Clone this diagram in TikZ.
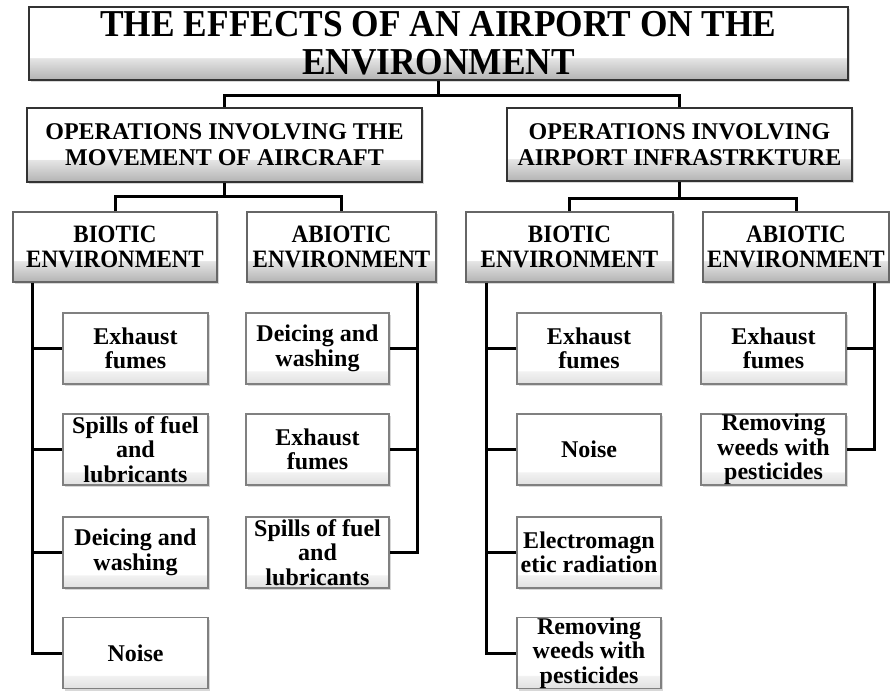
\documentclass[tikz,border=0pt]{standalone}
\usepackage{fontspec}
\setmainfont{Liberation Serif}
\newfontfamily\titlefont{Liberation Serif}[FakeStretch=0.93]
\newfontfamily\envfont{Liberation Serif}[FakeStretch=0.92]
\usetikzlibrary{shadows,calc}
\pgfdeclareverticalshading{shadeA}{100bp}{color(0bp)=(black!30); color(25bp)=(black!30); color(40bp)=(black!10); color(40.5bp)=(white); color(100bp)=(white)}
\pgfdeclareverticalshading{shadeB}{100bp}{color(0bp)=(black!12); color(25bp)=(black!12); color(34bp)=(black!5); color(34.5bp)=(white); color(100bp)=(white)}
\tikzset{
  basebox/.style={shade, shading=shadeA, inner sep=0pt, align=center,
    drop shadow={shadow xshift=2pt, shadow yshift=-2pt, opacity=0.25, fill=black!60}},
  titlebox/.style={basebox, draw=black!80, line width=2.2pt,
    font=\titlefont\bfseries\fontsize{38}{38}\selectfont},
  opbox/.style={basebox, draw=black!80, line width=2.2pt,
    font=\bfseries\fontsize{24}{26}\selectfont},
  envbox/.style={basebox, draw=black!60, line width=1.3pt,
    font=\envfont\bfseries\fontsize{25}{24.3}\selectfont},
  leafbox/.style={basebox, shading=shadeB, draw=black!50, line width=1.1pt,
    minimum width=145pt, minimum height=71pt,
    font=\bfseries\fontsize{24}{24.5}\selectfont},
  conn/.style={line width=3pt, draw=black, line join=miter}
}
\begin{document}
\begin{tikzpicture}[x=1pt,y=-1pt]
\fill[white] (0,0) rectangle (890,691);
\useasboundingbox (0,0) rectangle (890,691);

% level 0 and 1
\node[titlebox, minimum width=819pt, minimum height=73pt] (top) at (438.5,43.5)
  {THE EFFECTS OF AN AIRPORT ON THE\\ENVIRONMENT};
\node[opbox, minimum width=395pt, minimum height=74pt] (op1) at (224.5,145)
  {OPERATIONS INVOLVING THE\\MOVEMENT OF AIRCRAFT};
\node[opbox, minimum width=345pt, minimum height=73pt] (op2) at (679.5,144.5)
  {OPERATIONS INVOLVING\\AIRPORT INFRASTRKTURE};

% level 2
\node[envbox, minimum width=204pt, minimum height=70pt] (b1) at (115,247) {BIOTIC\\ENVIRONMENT};
\node[envbox, minimum width=189pt, minimum height=70pt] (a1) at (341.5,247) {ABIOTIC\\ENVIRONMENT};
\node[envbox, minimum width=207pt, minimum height=70pt] (b2) at (569.5,247) {BIOTIC\\ENVIRONMENT};
\node[envbox, minimum width=186pt, minimum height=70pt] (a2) at (796,247) {ABIOTIC\\ENVIRONMENT};

% leaves: biotic, aircraft
\node[leafbox] (lb1a) at (135.5,348.5) {Exhaust\\fumes};
\node[leafbox] (lb1b) at (135.5,449.5) {Spills of fuel\\and\\lubricants};
\node[leafbox] (lb1c) at (135.5,552.5) {Deicing and\\washing};
\node[leafbox] (lb1d) at (135.5,653) {Noise};
% leaves: abiotic, aircraft
\node[leafbox, minimum width=143pt] (la1a) at (317.5,348.5) {Deicing and\\washing};
\node[leafbox, minimum width=143pt] (la1b) at (317.5,449.5) {Exhaust\\fumes};
\node[leafbox, minimum width=143pt] (la1c) at (317.5,552.5) {Spills of fuel\\and\\lubricants};
% leaves: biotic, infrastructure
\node[leafbox, minimum width=144pt] (lb2a) at (589,348.5) {Exhaust\\fumes};
\node[leafbox, minimum width=144pt] (lb2b) at (589,449.5) {Noise};
\node[leafbox, minimum width=144pt] (lb2c) at (589,552.5) {Electromagn\\etic radiation};
\node[leafbox, minimum width=144pt] (lb2d) at (589,653) {Removing\\weeds with\\pesticides};
% leaves: abiotic, infrastructure
\node[leafbox] (la2a) at (773.5,348.5) {Exhaust\\fumes};
\node[leafbox] (la2b) at (773.5,449.5) {Removing\\weeds with\\pesticides};

% connectors level 0 -> 1
\path (top.south) ++(0,14) coordinate (j0);
\draw[conn] (top.south) -- (j0);
\draw[conn] (op1.north) |- (j0) -| (op2.north);
% level 1 -> 2
\path (op1.south) ++(0,13) coordinate (j1);
\draw[conn] (op1.south) -- (j1);
\draw[conn] (b1.north) |- (j1) -| (a1.north);
\path (op2.south) ++(0,16) coordinate (j2);
\draw[conn] (op2.south) -- (j2);
\draw[conn] (b2.north) |- (j2) -| (a2.north);

% trunks
\coordinate (vb1) at ($(b1.south west)+(20,0)$);
\coordinate (va1) at ($(a1.south east)+(-19,0)$);
\coordinate (vb2) at ($(b2.south west)+(21,0)$);
\coordinate (va2) at ($(a2.south east)+(-15,0)$);

\draw[conn] (vb1) |- (lb1d.west);
\draw[conn] (vb1 |- lb1a.west) -- (lb1a.west);
\draw[conn] (vb1 |- lb1b.west) -- (lb1b.west);
\draw[conn] (vb1 |- lb1c.west) -- (lb1c.west);

\draw[conn] (va1) |- (la1c.east);
\draw[conn] (va1 |- la1a.east) -- (la1a.east);
\draw[conn] (va1 |- la1b.east) -- (la1b.east);

\draw[conn] (vb2) |- (lb2d.west);
\draw[conn] (vb2 |- lb2a.west) -- (lb2a.west);
\draw[conn] (vb2 |- lb2b.west) -- (lb2b.west);
\draw[conn] (vb2 |- lb2c.west) -- (lb2c.west);

\draw[conn] (va2) |- (la2b.east);
\draw[conn] (va2 |- la2a.east) -- (la2a.east);
\end{tikzpicture}
\end{document}
